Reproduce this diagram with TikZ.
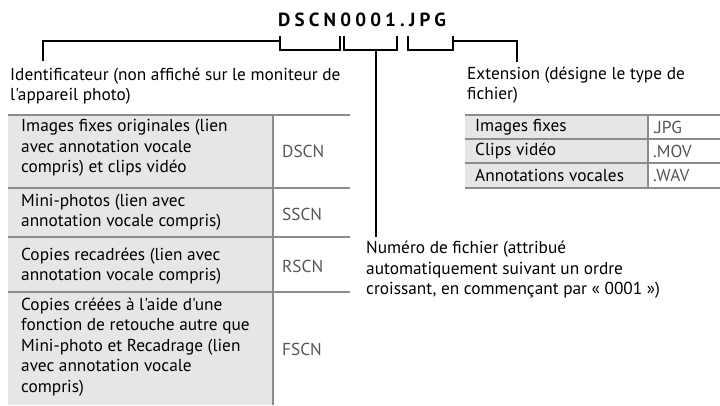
\documentclass[tikz,border=0pt]{standalone}
\usepackage{fontspec}
\setmainfont{PT Sans}[Ligatures=TeXOff]
\newfontfamily\titlefont[LetterSpace=22]{PT Sans}
\definecolor{CellGray}{RGB}{230,230,230}
\definecolor{RuleGray}{RGB}{140,140,140}
\definecolor{CodeText}{RGB}{85,85,85}

\begin{document}
\begin{tikzpicture}[x=1pt,y=-1pt,font=\fontsize{17.3}{20.5}\selectfont,
  bracket/.style={draw=black,line width=1.8pt},
  rule/.style={draw=RuleGray,line width=2.5pt},
  lbl/.style={anchor=west,inner sep=0pt,align=left},
  code/.style={anchor=west,inner sep=0pt,text=CodeText}]
  \useasboundingbox (0,0) rectangle (720,405);

  % file name and its three parts
  \node[anchor=west,inner sep=0pt,font=\titlefont\bfseries\fontsize{19}{20}\selectfont] (fname) at (278,20) {DSCN0001.JPG};
  \coordinate (idL) at (280,36);
  \coordinate (idR) at (340,36);
  \coordinate (numL) at (344,36);
  \coordinate (numR) at (397,36);
  \coordinate (extL) at (408,36);
  \coordinate (extR) at (453,36);
  \coordinate (idEnd) at (43,61);
  \coordinate (numMid) at (376,50);
  \coordinate (numEnd) at (376,237);
  \coordinate (extEnd) at (517,62);

  \draw[bracket] (idL) -- ++(0,14) -| (idR);
  \draw[bracket] (numL) -- ++(0,14) -| (numR);
  \draw[bracket] (extL) -- ++(0,14) -| (extR);
  \draw[bracket] ([yshift=-5pt]idL) -| (idEnd);
  \draw[bracket] (numMid) -- (numEnd);
  \draw[bracket] ([yshift=-5pt]extR) -| (extEnd);

  % labels
  \node[lbl] (ident) at (10,86) {Identificateur (non affiché sur le moniteur de\\l'appareil photo)};
  \node[lbl] (ext) at (467,85) {Extension (désigne le type de\\fichier)};
  \node[lbl] (num) at (366,270) {Numéro de fichier (attribué\\automatiquement suivant un ordre\\croissant, en commençant par « 0001 »)};

  % identifier table
  \fill[CellGray] (8,115) rectangle (273,405);
  \foreach \y in {115,188,237,292}
    \draw[rule] (8,\y) -- (350,\y);
  \draw[rule] (273,115) -- (273,405);

  \node[lbl] (still) at (21,148) {Images fixes originales (lien\\avec annotation vocale\\compris) et clips vidéo};
  \node[code] (dscn) at (282,151) {DSCN};
  \node[lbl] (mini) at (21,212) {Mini-photos (lien avec\\annotation vocale compris)};
  \node[code] (sscn) at (282,214) {SSCN};
  \node[lbl] (crop) at (21,266) {Copies recadrées (lien avec\\annotation vocale compris)};
  \node[code] (rscn) at (282,266) {RSCN};
  \node[lbl] (retouch) at (21,347) {Copies créées à l'aide d'une\\fonction de retouche autre que\\Mini-photo et Recadrage (lien\\avec annotation vocale\\compris)};
  \node[code] (fscn) at (282,349) {FSCN};

  % extension table
  \fill[CellGray] (465,115) rectangle (648,188);
  \foreach \y in {115,139,163,188}
    \draw[rule] (465,\y) -- (720,\y);
  \draw[rule] (648,115) -- (648,188);

  \node[lbl] (img) at (475,127) {Images fixes};
  \node[code] (jpg) at (653,127) {.JPG};
  \node[lbl] (mov) at (475,151) {Clips vidéo};
  \node[code] (movx) at (653,151) {.MOV};
  \node[lbl] (wav) at (475,175) {Annotations vocales};
  \node[code] (wavx) at (653,175) {.WAV};
\end{tikzpicture}
\end{document}
